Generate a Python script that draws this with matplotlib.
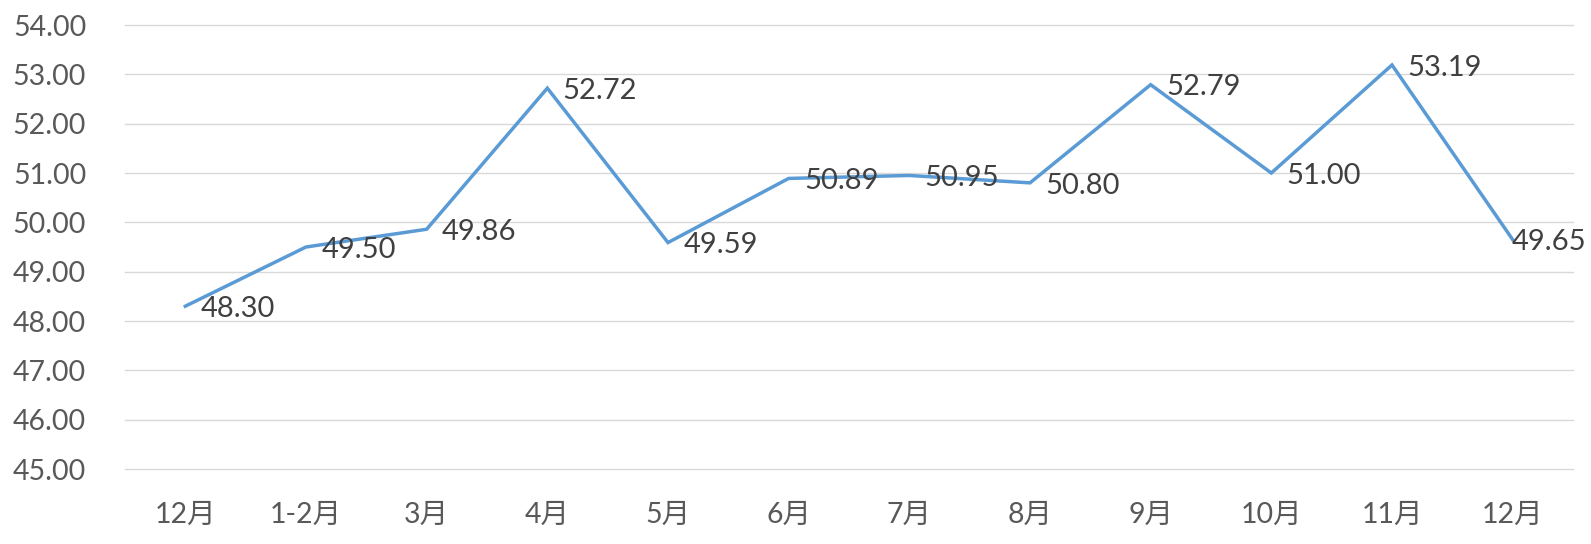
import numpy as np
import matplotlib.pyplot as plt

plt.rcParams['font.family'] = ['Lato', 'Noto Sans CJK SC', 'DejaVu Sans']

months = ["12月", "1-2月", "3月", "4月", "5月", "6月", "7月", "8月", "9月", "10月", "11月", "12月"]
values = [48.30, 49.50, 49.86, 52.72, 49.59, 50.89, 50.95, 50.80, 52.79, 51.00, 53.19, 49.65]

fig = plt.figure(figsize=(15.91, 5.44), dpi=100)
ax = fig.add_axes([125/1591, 1 - 469/544, 1448/1591, 444/544])

x = np.arange(len(months))
ax.plot(x, values, color="#5B9BD5", linewidth=2.5, solid_joinstyle="miter", zorder=3)

for i, (xi, v) in enumerate(zip(x, values)):
    # the last label is pushed left so it stays inside the figure
    dx = -1 if i == len(values) - 1 else 11
    ax.annotate(f"{v:.2f}", (xi, v), xytext=(dx, -2), textcoords="offset points",
                ha="left", va="center", fontsize=21, color="#404040", zorder=4)

ax.set_xlim(-0.5, len(months) - 0.5)
ax.set_ylim(45, 54)
ax.set_yticks(np.arange(45, 55, 1))
ax.set_yticklabels([f"{t:.2f}" for t in range(45, 55)])
ax.set_xticks(x)
ax.set_xticklabels(months)

ax.grid(axis="y", color="#D9D9D9", linewidth=1)
for gl in ax.get_ygridlines():
    gl.set_clip_on(False)
ax.set_axisbelow(True)
for s in ax.spines.values():
    s.set_visible(False)
ax.tick_params(axis="both", length=0, labelsize=20.5, colors="#595959")
ax.tick_params(axis="y", pad=28)
ax.tick_params(axis="x", pad=24)

fig.savefig("out.png", dpi=100)
